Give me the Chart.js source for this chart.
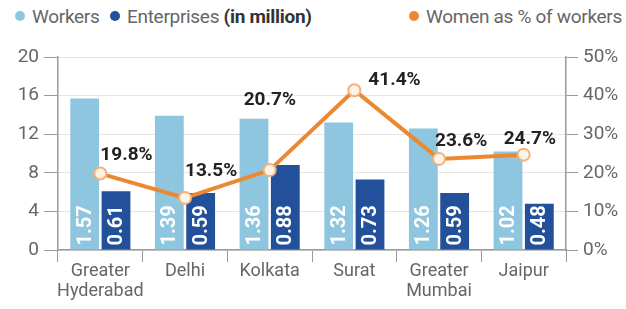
<!DOCTYPE html>
<html>
<head>
<meta charset="utf-8">
<script src="https://cdn.jsdelivr.net/npm/chart.js@4/dist/chart.umd.min.js"></script>
<style>
  html, body { margin: 0; padding: 0; background: #fff; }
  #wrap { position: relative; width: 626px; height: 309px; font-family: 'Roboto', sans-serif; }
  #legend { position: absolute; top: 5px; left: 0; width: 626px; height: 26px; font-size: 19px; color: #666; letter-spacing: -0.3px; }
  .item { position: absolute; top: 0; white-space: nowrap; }
  .dot { display: inline-block; width: 10px; height: 10px; border-radius: 50%; margin-right: 7px; vertical-align: 2px; }
  canvas { position: absolute; top: 0; left: 0; }
</style>
</head>
<body>
<div id="wrap">
  <div id="legend">
    <span class="item" style="left:15px"><span class="dot" style="background:#8ec6df"></span>Workers</span>
    <span class="item" style="left:110px"><span class="dot" style="background:#23509a"></span>Enterprises <b style="color:#333">(in million)</b></span>
    <span class="item" style="right:4px"><span class="dot" style="background:#ec8830"></span>Women as % of workers</span>
  </div>
  <canvas id="chart" width="626" height="309"></canvas>
</div>
<script>
const cities = [['Greater', 'Hyderabad'], 'Delhi', 'Kolkata', 'Surat', ['Greater', 'Mumbai'], 'Jaipur'];
const workers = [1.57, 1.39, 1.36, 1.32, 1.26, 1.02];       // million
const enterprises = [0.61, 0.59, 0.88, 0.73, 0.59, 0.48];   // million
const womenShare = [19.8, 13.5, 20.7, 41.4, 23.6, 24.7];    // % of workers

// where each % label sits relative to its point
const pctLabelOffsets = [[0, -18], [0, -27], [-26, -70], [14, -10], [-4, -18], [-20, -15]];

const FONT = "'Roboto', sans-serif";

const valueLabels = {
    id: 'valueLabels',
    afterDatasetsDraw(chart) {
        const ctx = chart.ctx;
        ctx.save();
        // numbers inside bars
        [0, 1].forEach(i => {
            const meta = chart.getDatasetMeta(i);
            meta.data.forEach((bar, j) => {
                ctx.save();
                ctx.translate(bar.x, bar.base - 4);
                ctx.rotate(-Math.PI / 2);
                ctx.fillStyle = '#fff';
                ctx.font = 'bold 20px ' + FONT;
                ctx.textAlign = 'left';
                ctx.textBaseline = 'middle';
                ctx.fillText(chart.data.datasets[i].data[j].toFixed(2), 0, 1);
                ctx.restore();
            });
        });
        // % labels
        const meta = chart.getDatasetMeta(2);
        meta.data.forEach((pt, j) => {
            const off = pctLabelOffsets[j];
            ctx.fillStyle = '#222';
            ctx.font = 'bold 19px ' + FONT;
            ctx.textAlign = 'left';
            ctx.textBaseline = 'middle';
            ctx.fillText(womenShare[j].toFixed(1) + '%', pt.x + off[0], pt.y + off[1]);
        });
        ctx.restore();
    }
};

new Chart(document.getElementById('chart'), {
    data: {
        labels: cities,
        datasets: [{
            type: 'bar',
            label: 'Workers',
            data: workers,
            backgroundColor: '#8ec6df',
            yAxisID: 'y',
            order: 2,
            categoryPercentage: 0.74,
            barPercentage: 0.92
        }, {
            type: 'bar',
            label: 'Enterprises',
            data: enterprises,
            backgroundColor: '#23509a',
            yAxisID: 'y',
            order: 2,
            categoryPercentage: 0.74,
            barPercentage: 0.92
        }, {
            type: 'line',
            label: 'Women as % of workers',
            data: womenShare,
            yAxisID: 'y1',
            borderColor: '#ec8830',
            borderWidth: 4,
            pointRadius: 6,
            pointBorderWidth: 2,
            pointBackgroundColor: '#fdf3e6',
            pointBorderColor: '#f2b27a',
            tension: 0,
            order: 1
        }]
    },
    options: {
        responsive: false,
        animation: false,
        layout: { padding: { top: 57, left: 0, right: 0, bottom: 0 } },
        plugins: { legend: { display: false }, tooltip: { enabled: false } },
        scales: {
            x: {
                afterFit(scale) { scale.height = 59; },
                grid: { offset: true, drawOnChartArea: false, tickLength: 12, color: '#999' },
                border: { color: '#999', width: 1.5 },
                ticks: {
                    color: '#666',
                    font: { family: FONT, size: 18, lineHeight: 1.1 },
                    padding: 0,
                    maxRotation: 0,
                    autoSkip: false
                }
            },
            y: {
                position: 'left',
                min: 0, max: 2,
                afterFit(scale) { scale.width = 58; },
                ticks: {
                    stepSize: 0.4,
                    color: '#666',
                    padding: 5,
                    font: { family: FONT, size: 19 },
                    callback: v => Math.round(v * 10)
                },
                grid: { color: '#e6e6e6', tickLength: 14, tickColor: '#999' },
                border: { color: '#999', width: 1.5 }
            },
            y1: {
                position: 'right',
                min: 0, max: 50,
                afterFit(scale) { scale.width = 60; },
                ticks: {
                    stepSize: 10,
                    color: '#666',
                    padding: 5,
                    font: { family: FONT, size: 19 },
                    callback: v => v + '%'
                },
                grid: { drawOnChartArea: false, tickLength: 12, color: '#999' },
                border: { color: '#999', width: 1.5 }
            }
        }
    },
    plugins: [valueLabels]
});
</script>
</body>
</html>
